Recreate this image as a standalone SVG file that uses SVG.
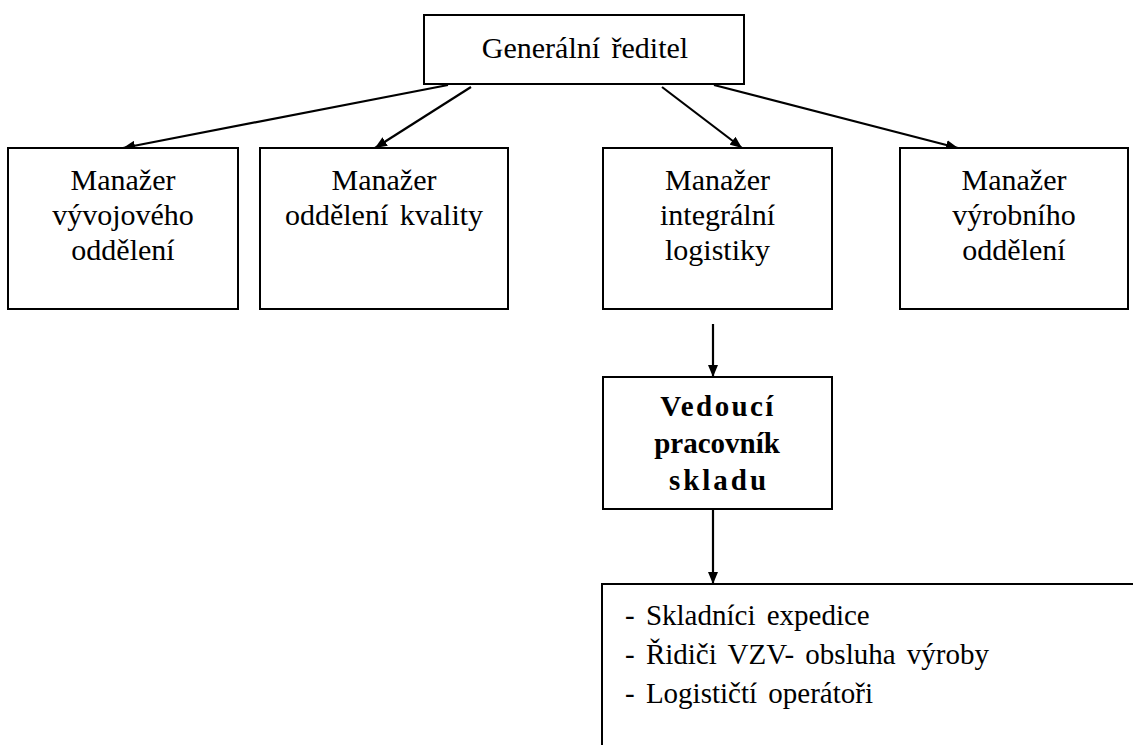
<svg xmlns="http://www.w3.org/2000/svg" width="1133" height="745" viewBox="0 0 1133 745">
  <style>
    .box { fill: #ffffff; stroke: #000000; stroke-width: 2; }
    text { font-family: "Liberation Serif", "Times New Roman", serif; fill: #000000; }
    .t { font-size: 30px; text-anchor: middle; word-spacing: 4px; }
    .b { font-size: 29px; font-weight: bold; text-anchor: middle; }
    .l { font-size: 29px; word-spacing: 4px; }
    .c { fill: none; stroke: #000000; stroke-width: 2.2; marker-end: url(#ah); }
  </style>
  <defs>
    <marker id="ah" viewBox="0 0 12 10" refX="12" refY="5" markerWidth="12" markerHeight="10" markerUnits="userSpaceOnUse" orient="auto">
      <path d="M0,0 L12,5 L0,10 z" fill="#000000"/>
    </marker>
  </defs>
  <rect width="1133" height="745" fill="#ffffff"/>

  <g id="connectors">
    <line class="c" x1="448" y1="85" x2="123" y2="148"/>
    <line class="c" x1="471" y1="87" x2="375" y2="148"/>
    <line class="c" x1="662" y1="87" x2="742" y2="148"/>
    <line class="c" x1="714" y1="85" x2="958" y2="148"/>
    <line class="c" x1="713" y1="324" x2="713" y2="377"/>
    <line class="c" x1="713" y1="509" x2="713" y2="584"/>
  </g>

  <g id="generalni-reditel">
    <rect class="box" x="424" y="15" width="320" height="69"/>
    <text class="t" x="585" y="58">Generální ředitel</text>
  </g>

  <g id="manazer-vyvojoveho">
    <rect class="box" x="8" y="148" width="230" height="161"/>
    <text class="t" x="123" y="190">Manažer</text>
    <text class="t" x="123" y="225">vývojového</text>
    <text class="t" x="123" y="260">oddělení</text>
  </g>

  <g id="manazer-kvality">
    <rect class="box" x="260" y="148" width="248" height="161"/>
    <text class="t" x="384" y="190">Manažer</text>
    <text class="t" x="384" y="225">oddělení kvality</text>
  </g>

  <g id="manazer-logistiky">
    <rect class="box" x="603" y="148" width="229" height="161"/>
    <text class="t" x="717.5" y="190">Manažer</text>
    <text class="t" x="717.5" y="225">integrální</text>
    <text class="t" x="717.5" y="260">logistiky</text>
  </g>

  <g id="manazer-vyrobniho">
    <rect class="box" x="900" y="148" width="228" height="161"/>
    <text class="t" x="1014" y="190">Manažer</text>
    <text class="t" x="1014" y="225">výrobního</text>
    <text class="t" x="1014" y="260">oddělení</text>
  </g>

  <g id="vedouci-skladu">
    <rect class="box" x="603" y="377" width="229" height="132"/>
    <text class="b" x="718" y="416" letter-spacing="2.4">Vedoucí</text>
    <text class="b" x="717" y="453">pracovník</text>
    <text class="b" x="719" y="490" letter-spacing="3">skladu</text>
  </g>

  <g id="pracovnici">
    <rect class="box" x="602" y="584" width="560" height="200"/>
    <text class="l" x="625" y="625">- Skladníci expedice</text>
    <text class="l" x="625" y="664">- Řidiči VZV- obsluha výroby</text>
    <text class="l" x="625" y="703">- Logističtí operátoři</text>
  </g>
</svg>
